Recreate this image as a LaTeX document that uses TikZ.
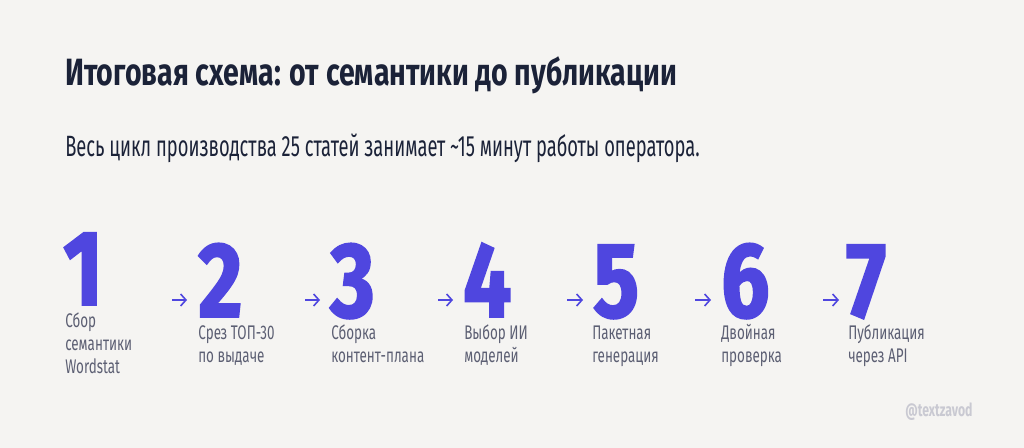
\documentclass[tikz,border=0pt]{standalone}
\usepackage{fontspec}
\setmainfont{Fira Sans}
\newfontfamily\headfont{Fira Sans}[FakeStretch=0.75]
\newfontfamily\subfont{Fira Sans}[FakeStretch=0.625]
\newfontfamily\lblfont{Fira Sans}[FakeStretch=0.68]
\newfontfamily\numfont{Fira Sans}[FakeStretch=0.80, BoldFeatures={FakeBold=1.8}]
\usetikzlibrary{arrows.meta}
\definecolor{paper}{HTML}{F5F4F2}
\definecolor{ink}{HTML}{1B2238}
\definecolor{indigo}{HTML}{4F46DF}
\definecolor{slate}{HTML}{5C5F73}
\definecolor{faint}{HTML}{C9C9D2}
\tikzset{
  num/.style={anchor=base west, inner sep=0, text depth=0pt, text=indigo, font=\numfont\bfseries\fontsize{80}{80}\selectfont},
  lbl/.style={anchor=base west, inner sep=0, text=slate},
  arr/.style={draw=indigo, line width=1.2pt, -{Straight Barb[length=4pt,width=9pt,line width=1.2pt]}}
}
\newcommand{\steptext}[1]{\parbox[t]{4cm}{\raggedright\lblfont\fontsize{14.8}{17.25}\selectfont #1}}
\begin{document}
\begin{tikzpicture}[x=0.75pt,y=-0.75pt]
\fill[paper] (0,0) rectangle (1024,448);
\useasboundingbox (0,0) rectangle (1024,448);
% heading
\node[anchor=base west, inner sep=0, text=ink, font=\headfont\bfseries\fontsize{28.5}{32}\selectfont] (title) at (65,86) {Итоговая схема: от семантики до публикации};
\node[anchor=base west, inner sep=0, text=ink, font=\subfont\fontsize{22}{26}\selectfont] (sub) at (65,157) {Весь цикл производства 25 статей занимает \textasciitilde15 минут работы оператора.};
% step numbers
\node[num] (n1) at (63,305) {1};
\node[num] (n2) at (198,317) {2};
\node[num] (n3) at (330,317) {3};
\node[num] (n4) at (463,317) {4};
\node[num] (n5) at (593,317) {5};
\node[num] (n6) at (721,317) {6};
\node[num] (n7) at (846,317) {7};
% step labels
\node[lbl] (l1) at (65,328) {\steptext{Сбор\\семантики\\Wordstat}};
\node[lbl] (l2) at (198,340) {\steptext{Срез ТОП-30\\по выдаче}};
\node[lbl] (l3) at (331,340) {\steptext{Сборка\\контент-плана}};
\node[lbl] (l4) at (464,340) {\steptext{Выбор ИИ\\моделей}};
\node[lbl] (l5) at (592,340) {\steptext{Пакетная\\генерация}};
\node[lbl] (l6) at (721,340) {\steptext{Двойная\\проверка}};
\node[lbl] (l7) at (848,340) {\steptext{Публикация\\через API}};
% arrows
\coordinate (s2) at (172,300); \coordinate (t2) at (187,300);
\coordinate (s3) at (305,300); \coordinate (t3) at (320,300);
\coordinate (s4) at (438,300); \coordinate (t4) at (453,300);
\coordinate (s5) at (567,300); \coordinate (t5) at (583,300);
\coordinate (s6) at (695,300); \coordinate (t6) at (711,300);
\coordinate (s7) at (823,300); \coordinate (t7) at (839,300);
\draw[arr] (s2) -- (t2);
\draw[arr] (s3) -- (t3);
\draw[arr] (s4) -- (t4);
\draw[arr] (s5) -- (t5);
\draw[arr] (s6) -- (t6);
\draw[arr] (s7) -- (t7);
% signature
\node[anchor=base west, inner sep=0, text=faint, font=\lblfont\bfseries\fontsize{13.5}{16}\selectfont] (sig) at (905,417) {@textzavod};
\end{tikzpicture}
\end{document}
